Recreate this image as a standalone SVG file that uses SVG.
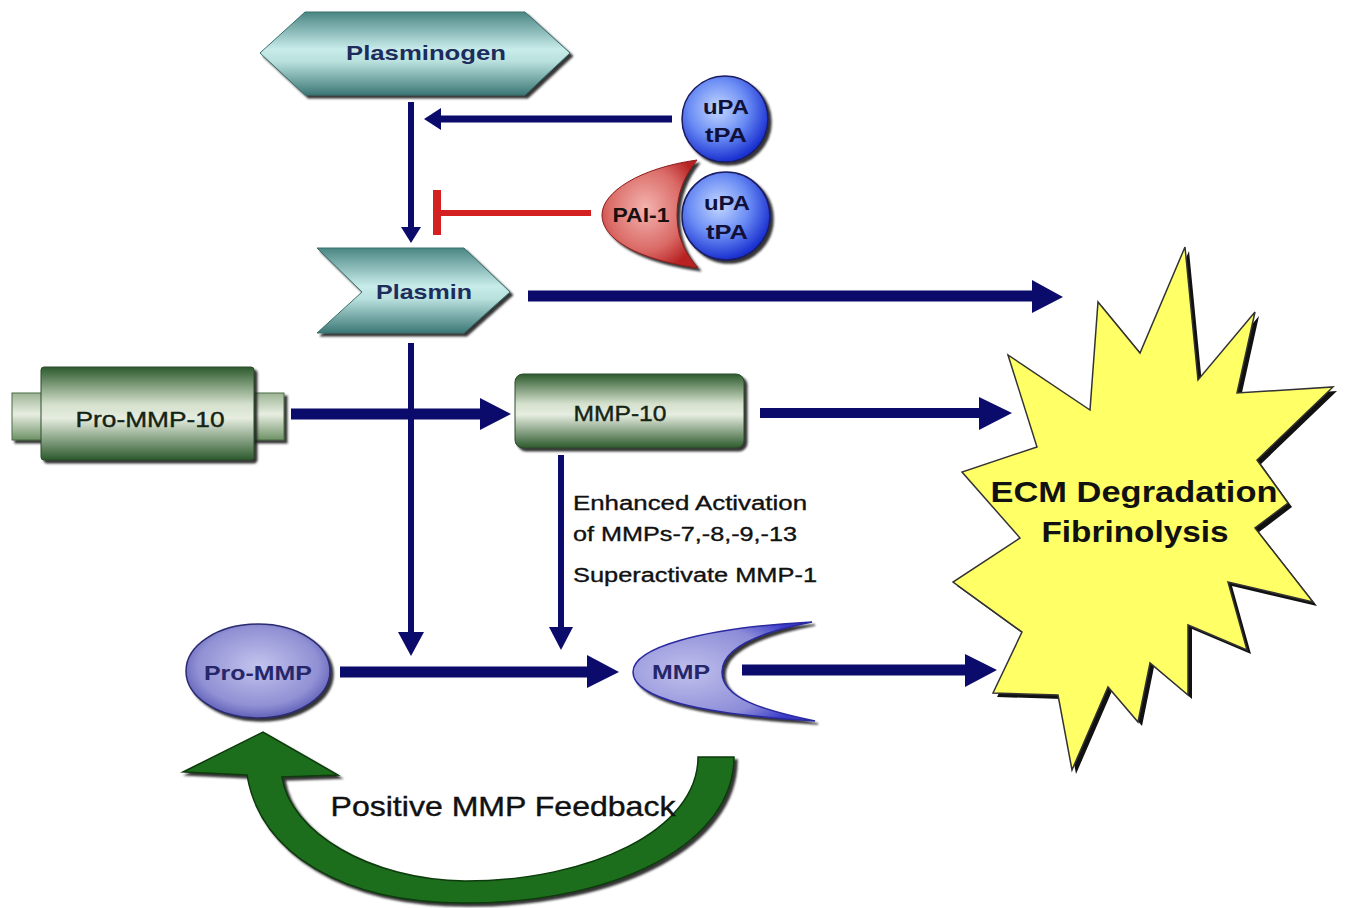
<svg xmlns="http://www.w3.org/2000/svg" width="1346" height="908" viewBox="0 0 1346 908">
<style>
.lbl{font-family:"Liberation Sans",Arial,sans-serif;font-weight:bold;text-anchor:middle}
.navy{fill:#0b0b6b}
.nline{stroke:#0b0b6b;fill:none}
.note{font-family:"Liberation Sans",Arial,sans-serif;font-size:20px;fill:#111;stroke:#111;stroke-width:0.35}
.heavy{font-family:"Liberation Sans",Arial,sans-serif;text-anchor:middle;stroke-width:0.4}
</style>
<defs>
<linearGradient id="teal" x1="0" y1="0" x2="0" y2="1">
<stop offset="0" stop-color="#4a8684"/><stop offset="0.45" stop-color="#c8ecea"/><stop offset="0.6" stop-color="#b8e0dd"/><stop offset="1" stop-color="#3c7876"/>
</linearGradient>
<linearGradient id="green" x1="0" y1="0" x2="0" y2="1">
<stop offset="0" stop-color="#2c5a2c"/><stop offset="0.4" stop-color="#d4e0cc"/><stop offset="0.55" stop-color="#e6ede0"/><stop offset="1" stop-color="#2c5a2c"/>
</linearGradient>
<linearGradient id="tab" x1="0" y1="0" x2="0" y2="1">
<stop offset="0" stop-color="#9cb494"/><stop offset="0.45" stop-color="#e8eee2"/><stop offset="1" stop-color="#6e9266"/>
</linearGradient>
<radialGradient id="blue" cx="0.42" cy="0.38" r="0.62">
<stop offset="0" stop-color="#c4d8ff"/><stop offset="0.55" stop-color="#6a8cf4"/><stop offset="1" stop-color="#1a30d0"/>
</radialGradient>
<radialGradient id="red" cx="0.45" cy="0.45" r="0.6">
<stop offset="0" stop-color="#f4b4b0"/><stop offset="0.65" stop-color="#da6a66"/><stop offset="1" stop-color="#b82424"/>
</radialGradient>
<radialGradient id="purple" cx="0.5" cy="0.45" r="0.6">
<stop offset="0" stop-color="#c4c4ee"/><stop offset="0.7" stop-color="#9090d4"/><stop offset="1" stop-color="#5050b0"/>
</radialGradient>
<radialGradient id="mmpg" cx="0.3" cy="0.5" r="0.7">
<stop offset="0" stop-color="#c0c0ec"/><stop offset="0.7" stop-color="#8c8cd8"/><stop offset="1" stop-color="#3a3ac8"/>
</radialGradient>
<filter id="sh" x="-10%" y="-10%" width="130%" height="130%">
<feDropShadow dx="3" dy="3" stdDeviation="0.8" flood-color="#1a1a1a" flood-opacity="0.9"/>
</filter>
</defs>

<g id="ecm">
<polygon transform="translate(4,4)" fill="#111" points="1185,247 1198,380 1255,312 1237,393 1333,387 1257,460 1288,503 1255,528 1313,602 1228,582 1247,650 1188,625 1188,695 1150,663 1138,722 1108,687 1072,770 1058,695 993,693 1022,632 953,582 1020,538 962,472 1037,447 1008,355 1090,410 1098,302 1140,353"/>
<polygon fill="#ffff66" stroke="#333" stroke-width="1.5" stroke-linejoin="miter" points="1185,247 1198,380 1255,312 1237,393 1333,387 1257,460 1288,503 1255,528 1313,602 1228,582 1247,650 1188,625 1188,695 1150,663 1138,722 1108,687 1072,770 1058,695 993,693 1022,632 953,582 1020,538 962,472 1037,447 1008,355 1090,410 1098,302 1140,353"/>
<text class="lbl" x="1134" y="502" font-size="30" fill="#111" textLength="287" lengthAdjust="spacingAndGlyphs">ECM Degradation</text>
<text class="lbl" x="1135" y="542" font-size="30" fill="#111" textLength="187" lengthAdjust="spacingAndGlyphs">Fibrinolysis</text>
</g>

<g id="connectors">
<line class="nline" x1="411" y1="102" x2="411" y2="230" stroke-width="6"/>
<polygon class="navy" points="401,227 421,227 411,243"/>
<line class="nline" x1="672" y1="119" x2="438" y2="119" stroke-width="7"/>
<polygon class="navy" points="441,108 441,130 424,119"/>
<line x1="591" y1="213" x2="437" y2="213" stroke="#d42020" stroke-width="6"/>
<rect x="433" y="190" width="8" height="45" fill="#d42020"/>
<line class="nline" x1="528" y1="296" x2="1034" y2="296" stroke-width="11"/>
<polygon class="navy" points="1032,280 1032,313 1063,297"/>
<line class="nline" x1="291" y1="414" x2="482" y2="414" stroke-width="11"/>
<polygon class="navy" points="480,398 480,430 511,414"/>
<line class="nline" x1="411" y1="343" x2="411" y2="635" stroke-width="6"/>
<polygon class="navy" points="398,632 424,632 411,656"/>
<line class="nline" x1="760" y1="413" x2="981" y2="413" stroke-width="10"/>
<polygon class="navy" points="979,397 979,430 1012,413"/>
<line class="nline" x1="561" y1="455" x2="561" y2="630" stroke-width="6"/>
<polygon class="navy" points="549,627 573,627 561,650"/>
<line class="nline" x1="340" y1="672" x2="590" y2="672" stroke-width="11"/>
<polygon class="navy" points="587,655 587,688 619,672"/>
<line class="nline" x1="742" y1="670" x2="968" y2="670" stroke-width="11"/>
<polygon class="navy" points="965,654 965,687 997,670"/>
</g>

<g id="note">
<text class="note" x="573" y="510" textLength="234" lengthAdjust="spacingAndGlyphs">Enhanced Activation</text>
<text class="note" x="573" y="541" textLength="224" lengthAdjust="spacingAndGlyphs">of MMPs-7,-8,-9,-13</text>
<text class="note" x="573" y="582" textLength="244" lengthAdjust="spacingAndGlyphs">Superactivate MMP-1</text>
</g>

<g id="plasminogen">
<polygon filter="url(#sh)" fill="url(#teal)" stroke="#3a6e6c" stroke-width="1" points="260,53 305,12 525,12 570,53 525,95 305,95"/>
<text class="lbl" x="426" y="60" font-size="21" fill="#1c2c5c" textLength="160" lengthAdjust="spacingAndGlyphs">Plasminogen</text>
</g>

<g id="upa1">
<circle cx="725" cy="119" r="43" fill="url(#blue)" stroke="#1a1a60" stroke-width="1.5" filter="url(#sh)"/>
<text class="lbl" x="726" y="114" font-size="21" fill="#101038" textLength="46" lengthAdjust="spacingAndGlyphs">uPA</text>
<text class="lbl" x="726" y="142" font-size="21" fill="#101038" textLength="42" lengthAdjust="spacingAndGlyphs">tPA</text>
</g>

<g id="pai1">
<path d="M697,160 C640,168 602,192 602,215 C602,240 640,260 698,268 C684,252 677,236 677,215 C677,194 684,176 697,160 Z" fill="url(#red)" stroke="#8a1a1a" stroke-width="1" filter="url(#sh)"/>
<text class="lbl" x="641" y="222" font-size="20" fill="#1a1010" textLength="57" lengthAdjust="spacingAndGlyphs">PAI-1</text>
</g>

<g id="upa2">
<circle cx="726" cy="216" r="44" fill="url(#blue)" stroke="#1a1a60" stroke-width="1.5" filter="url(#sh)"/>
<text class="lbl" x="727" y="210" font-size="21" fill="#101038" textLength="46" lengthAdjust="spacingAndGlyphs">uPA</text>
<text class="lbl" x="727" y="239" font-size="21" fill="#101038" textLength="42" lengthAdjust="spacingAndGlyphs">tPA</text>
</g>

<g id="plasmin">
<polygon filter="url(#sh)" fill="url(#teal)" stroke="#3a6e6c" stroke-width="1" points="317,248 464,248 510,292 464,333 317,333 362,292"/>
<text class="lbl" x="424" y="299" font-size="21" fill="#1c2c5c" textLength="96" lengthAdjust="spacingAndGlyphs">Plasmin</text>
</g>

<g id="pro-mmp-10">
<rect x="12" y="393" width="272" height="47" fill="url(#tab)" stroke="#4a6a44" stroke-width="1" filter="url(#sh)"/>
<rect x="41" y="367" width="213" height="93" rx="3" fill="url(#green)" stroke="#2c4a2c" stroke-width="1" filter="url(#sh)"/>
<text class="heavy" x="150" y="427" font-size="22" fill="#142414" stroke="#142414" textLength="149" lengthAdjust="spacingAndGlyphs">Pro-MMP-10</text>
</g>

<g id="mmp-10">
<rect x="515" y="374" width="229" height="74" rx="8" fill="url(#green)" stroke="#2c4a2c" stroke-width="1" filter="url(#sh)"/>
<text class="heavy" x="620" y="421" font-size="22" fill="#142414" stroke="#142414" textLength="93" lengthAdjust="spacingAndGlyphs">MMP-10</text>
</g>

<g id="pro-mmp">
<ellipse cx="258" cy="671" rx="72" ry="47" fill="url(#purple)" stroke="#2a2a70" stroke-width="1.5" filter="url(#sh)"/>
<text class="lbl" x="258" y="680" font-size="21" fill="#26266a" textLength="108" lengthAdjust="spacingAndGlyphs">Pro-MMP</text>
</g>

<g id="mmp">
<path d="M812,622 C700,628 633,648 633,672 C633,698 700,714 815,721 C762,710 722,698 722,672 C722,648 760,632 812,622 Z" fill="url(#mmpg)" stroke="#2a2aa0" stroke-width="1.5" filter="url(#sh)"/>
<text class="lbl" x="681" y="679" font-size="21" fill="#26266a" textLength="58" lengthAdjust="spacingAndGlyphs">MMP</text>
</g>

<g id="feedback">
<path d="M183,772 L263,732 L338,775 L282,777 C290,832 370,880 465,881 C590,881 698,830 698,757 L734,757 C734,842 620,903 465,903 C340,903 260,852 247,775 Z" fill="#1d6d1d" stroke="#0a3a0a" stroke-width="1.5" filter="url(#sh)"/>
<text class="heavy" x="503" y="816" font-size="28" fill="#111" stroke="#111" textLength="345" lengthAdjust="spacingAndGlyphs">Positive MMP Feedback</text>
</g>
</svg>
